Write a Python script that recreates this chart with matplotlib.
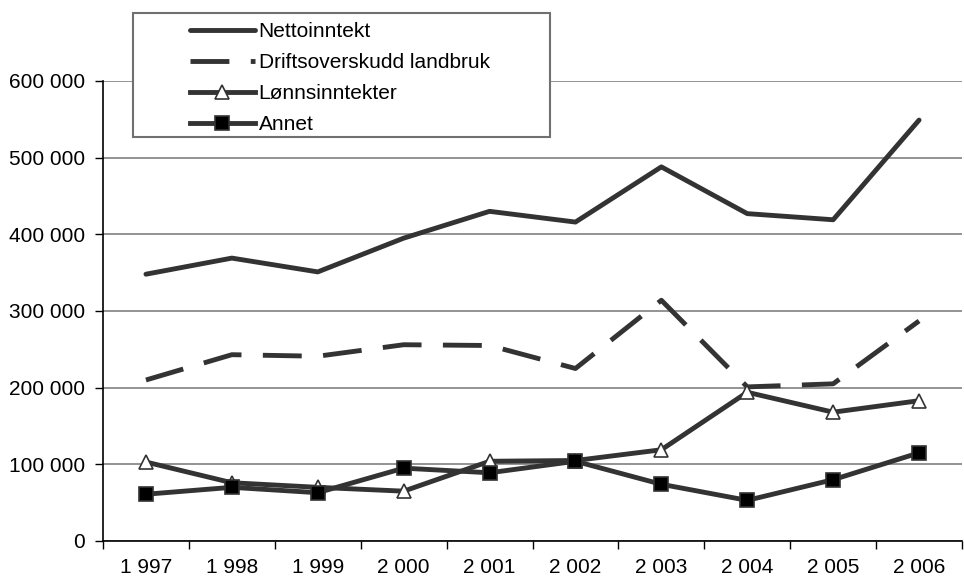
import matplotlib.pyplot as plt
from matplotlib.patches import Rectangle

plt.rcParams['font.family'] = ['Liberation Sans', 'DejaVu Sans']

years = ['1 997', '1 998', '1 999', '2 000', '2 001', '2 002', '2 003', '2 004', '2 005', '2 006']
netto = [348000, 369000, 351000, 395000, 430000, 416000, 488000, 427000, 419000, 549000]
drift = [210000, 243000, 241000, 256000, 255000, 225000, 314000, 201000, 205000, 287000]
lonn = [103000, 76000, 70000, 65000, 104000, 105000, 119000, 194000, 168000, 183000]
annet = [61000, 70000, 63000, 95000, 89000, 104000, 74000, 53000, 80000, 115000]
yticks = [0, 100000, 200000, 300000, 400000, 500000, 600000]
ylabels = ['0', '100 000', '200 000', '300 000', '400 000', '500 000', '600 000']

col = '#333333'
fs = 15

fig = plt.figure(figsize=(9.64, 5.8), dpi=100)
ax = fig.add_axes([103 / 964, 1 - 541 / 580, 859 / 964, 460 / 580])

x = list(range(len(years)))
ax.plot(x, netto, color=col, lw=3.5, solid_capstyle='round', label='Nettoinntekt')
ax.plot(x, drift, color=col, lw=3.5, linestyle=(0, (8, 4.4)), dash_capstyle='butt',
        label='Driftsoverskudd landbruk')
ax.plot(x, lonn, color=col, lw=3.5, marker='^', ms=9.5, mfc='white', mec=col, mew=1.2,
        label='Lønnsinntekter')
ax.plot(x, annet, color=col, lw=3.5, marker='s', ms=10.5, mfc='black', mec=col, mew=1.2,
        label='Annet')

ax.set_xlim(-0.5, len(years) - 0.5)
ax.set_ylim(0, 600000)
ax.set_yticks(yticks)
ax.set_yticklabels(ylabels, fontsize=fs)
ax.set_xticks(x)
ax.set_xticklabels(years, fontsize=fs)
ax.set_xticks([i - 0.5 for i in range(len(years) + 1)], minor=True)
ax.tick_params(axis='x', which='major', length=0, pad=12)
ax.tick_params(axis='x', which='minor', length=6, width=1, direction='out')
ax.tick_params(axis='y', length=6, width=1, direction='out', pad=7)

ax.yaxis.grid(True, color='#808080', lw=1.2)
ax.set_axisbelow(True)
for s in ['top', 'right']:
    ax.spines[s].set_visible(False)
for s in ['left', 'bottom']:
    ax.spines[s].set_color('black')
    ax.spines[s].set_linewidth(1.2)
    ax.spines[s].set_zorder(3)

# legend frame drawn by hand (wider than the entries)
fig.patches.append(Rectangle((133 / 964, 1 - 137 / 580), 417 / 964, 124 / 580,
                             transform=fig.transFigure, fill=True, facecolor='white',
                             edgecolor='#707070', lw=1.5, zorder=5))
leg = fig.legend(loc='upper left', bbox_to_anchor=(190 / 964, 1 - 22 / 580),
                 frameon=False, fontsize=fs, handlelength=3.1, handletextpad=0.2,
                 labelspacing=0.58, borderpad=0, borderaxespad=0)
leg.set_zorder(6)

plt.savefig('out.png', dpi=100)
